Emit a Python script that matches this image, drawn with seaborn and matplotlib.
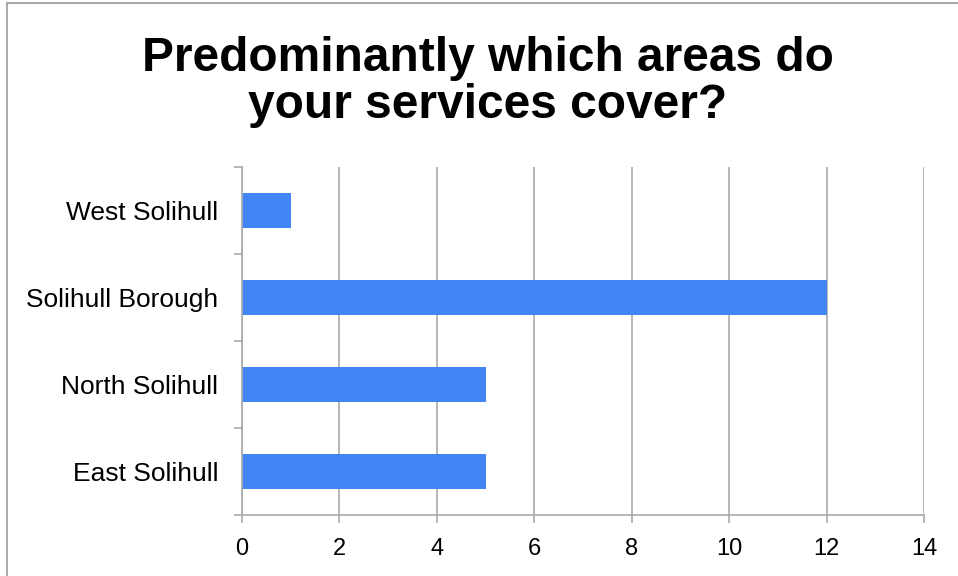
import matplotlib
matplotlib.use("Agg")
import matplotlib.pyplot as plt
import matplotlib.patches as patches
import pandas as pd
import seaborn as sns

# === Data ===
areas = ["West Solihull", "Solihull Borough", "North Solihull", "East Solihull"]
counts = [1, 12, 5, 5]
x_ticks = [0, 2, 4, 6, 8, 10, 12, 14]

title = "Predominantly which areas do\nyour services cover?"
bar_color = "#4285F4"
line_gray = "#AAAAAA"

sns.set_style("white")
plt.rcParams["font.family"] = ["Liberation Sans", "DejaVu Sans"]
plt.rcParams["text.color"] = "black"

df = pd.DataFrame({"area": areas, "count": counts})

fig = plt.figure(figsize=(9.58, 5.76), dpi=100)
ax = fig.add_axes([242 / 958, 1 - 515 / 576, (924 - 242) / 958, (515 - 167) / 576])

sns.barplot(data=df, x="count", y="area", order=areas, color=bar_color,
            width=0.4, saturation=1, linewidth=0, edgecolor="none", ax=ax)

ax.set_xlim(0, 14)
ax.set_ylim(3.5, -0.5)
ax.set_xticks(x_ticks)
ax.set_xlabel("")
ax.set_ylabel("")

# gridlines
ax.set_axisbelow(True)
ax.xaxis.grid(True, color=line_gray, linewidth=1.2)

# spines
for side in ["top", "right"]:
    ax.spines[side].set_visible(False)
for side in ["left", "bottom"]:
    ax.spines[side].set_color(line_gray)
    ax.spines[side].set_linewidth(1.2)

# category boundary ticks on the left
ax.set_yticks([-0.5, 0.5, 1.5, 2.5, 3.5], minor=True)
ax.tick_params(axis="y", which="minor", left=True, length=6, color=line_gray, width=1.2)
ax.tick_params(axis="y", which="major", left=False, length=0, pad=17, labelsize=19,
               labelcolor="black")
ax.tick_params(axis="x", bottom=True, length=6, color=line_gray, width=1.2,
               pad=10.5, labelsize=17, labelcolor="black")

# figure frame
fig.patches.append(patches.Rectangle((7 / 958, -0.1), 2, 1 - 3 / 576 + 0.1,
                                     transform=fig.transFigure, fill=False,
                                     edgecolor=line_gray, linewidth=1.5))

fig.text(488 / 958, 1 - 82 / 576, title, ha="center", va="center", color="black",
         fontsize=34.5, fontweight="bold", linespacing=1.08)

fig.savefig("out.png", dpi=100)
